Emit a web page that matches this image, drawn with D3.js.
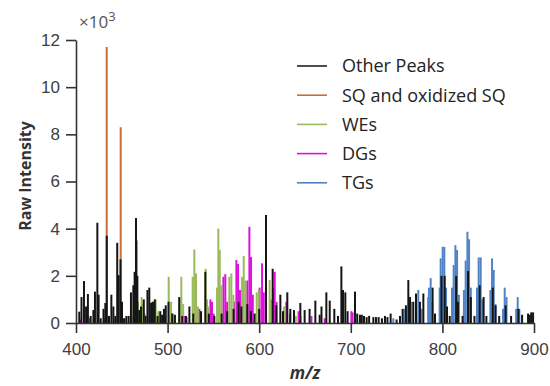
<!DOCTYPE html>
<meta charset="utf-8">
<style>
	body { margin: 0; padding: 0; background: #fff; }
	svg { font-family: 'Open Sans', sans-serif; }
	.axis path, .axis line { stroke: #333; stroke-width: 1.6px; fill: none; }
	.axis text { fill: #404040; font-size: 17px; }
	.peak { stroke-width: 2px; fill: none; }
	.legend text { fill: #222; font-size: 18px; }
</style>
<body>
<svg class="chart"></svg>
</body>
<script src="https://cdn.jsdelivr.net/npm/d3@7"></script>
<script>

// peak lists: [m/z, intensity in thousands]
var otherPeaks = [
	[403.6,0.48],[406,1.1],[408.7,1.78],[411,0.7],[413,1.23],[416,0.3],[419,0.55],[420.7,1.33],
	[423.3,4.25],[424.7,1.2],[427,0.2],[430,0.6],[432,0.85],[433.6,3.7],[436,0.3],[438.6,1.2],
	[440.8,0.7],[443,0.3],[445,3.4],[446.6,2.03],[448.6,2.7],[450.2,0.9],[452.5,0.2],[455,0.3],
	[457.5,0.3],[460,1.3],[462.6,1.6],[464,2.17],[465.5,4.45],[467,2.0],[469,0.55],[471,0.7],
	[474,1.0],[476,0.3],[478,1.4],[480,1.5],[482,0.85],[484,0.9],[486,1.0],[489,0.3],[492,0.5],
	[494,0.35],[496,0.6],[498,0.75],[501,0.9],[505,0.4],[508,0.35],[512.7,1.1],[516,0.3],[520,0.3],
	[523.8,0.7],[528,0.4],[536.5,0.5],[541.2,2.17],[545,0.4],[551,0.3],[559,0.4],[565,0.5],
	[572,0.6],[577.5,0.9],[580.5,0.7],[587,0.8],[591,0.5],[595,0.4],[600,0.6],[607.4,4.58],
	[614.7,2.3],[618.7,0.75],[623.1,1.2],[626,0.5],[630.7,1.3],[634,0.6],[638,0.55],[644.9,0.85],
	[649.6,0.55],[655,0.6],[661.3,0.95],[666,0.35],[668,0.7],[673.3,1.3],[677,0.95],[682,0.6],
	[686,0.3],[689.7,2.4],[691.5,1.4],[694,1.3],[696.5,0.5],[704.6,1.33],[707,0.4],[710,0.35],
	[712,0.35],[714.4,0.3],[717.3,0.25],[720,0.3],[724.6,0.25],[727.5,0.25],[730.4,0.25],[734,0.2],
	[737.3,0.3],[740,0.25],[743.5,0.4],[750,0.15],[753.7,0.3],[756.6,0.6],[760.2,0.75],[762.8,1.82],
	[764.6,1.1],[768.2,0.9],[771.2,1.25],[775.5,0.9],[779.2,1.25],[789.3,1.5],[791.9,0.4],[799,2.0],
	[802.5,2.0],[805,0.7],[808,0.3],[815,2.0],[817,0.9],[822,0.3],[828,2.2],[831,1.1],[835,0.3],
	[840.7,1.6],[845,1.1],[848,0.3],[855,1.5],[858,0.75],[862,0.3],[869,0.75],[875,0.3],[883,0.6],
	[887,0.35],[893.5,0.4],[895.4,0.35],[897,0.45],[899,0.45]
];

var sqPeaks = [[433.5,11.7],[448.8,8.3],[466.4,3.5]];

var wePeaks = [
	[460.5,0.3],[467.7,0.9],[471.7,1.1],[473.2,0.8],[475,0.4],[482.6,0.9],[487,1.0],[490,0.5],
	[495,0.3],[501.2,1.96],[503.8,0.9],[506,0.4],[512.9,1.0],[515,1.96],[517,0.8],[527.4,1.96],
	[529.2,3.12],[531,2.1],[533,0.7],[541.5,2.3],[543,1.0],[545,0.7],[554,1.5],[555.4,4.0],
	[556.9,3.1],[558.7,1.6],[567.4,1.96],[569.6,2.1],[571.8,1.2],[581.3,1.96],[583.1,2.84],
	[585,1.8],[597.3,1.3],[599.5,1.4],[611.4,1.82],[613,1.0],[627,0.7],[640,0.3]
];

var dgPeaks = [
	[405,0.15],[415,0.2],[424,0.15],[431,0.2],[443,0.2],[453,0.2],[468,0.15],[480,0.2],[490,0.15],
	[497,0.2],[504,0.2],[507,0.15],[518.3,0.3],[520.8,0.25],[532.9,0.55],[534.7,0.6],[536.5,0.3],
	[546.7,1.0],[548.5,0.9],[550.3,0.4],[560.9,1.96],[563,2.07],[565,0.9],[572.5,0.9],[575.1,2.67],
	[576.9,2.5],[579,1.4],[587,1.8],[589.3,4.08],[591.1,2.8],[593,1.2],[600.5,1.5],[603.1,2.53],
	[605,1.3],[615,1.5],[616.9,2.17],[619,0.9],[629.6,0.9],[633.6,0.4],[643,0.5],[645,0.3],
	[657,0.3],[671.5,0.2],[700.6,0.5],[702,0.45]
];

var tgPeaks = [
	[746.4,0.2],[758.8,0.6],[766,0.9],[773.7,1.4],[777,0.6],[784.5,1.1],[785.3,1.5],[787.2,1.9],
	[789,0.9],[797,1.5],[798.1,2.74],[800.3,3.23],[802.1,3.23],[804,1.5],[810.5,1.5],[812.3,2.46],
	[814.2,3.3],[816,3.1],[818,1.2],[823.5,1.4],[825.4,2.65],[827.3,3.87],[829.1,3.55],[831,1.5],
	[837.8,1.5],[839.6,2.78],[841.8,2.78],[843.5,1.0],[852.4,1.4],[854.2,2.74],[856,2.25],[858,0.8],
	[866.2,0.6],[868,1.5],[870,1.1],[880.5,0.6],[882.2,1.1],[884,0.6]
];

var xTicks = [400, 500, 600, 700, 800, 900];
var yTicks = [0, 2, 4, 6, 8, 10, 12];

var legendNames = ["Other Peaks", "SQ and oxidized SQ", "WEs", "DGs", "TGs"];
var legendColors = ["#222222", "#cc6a3c", "#9aba5a", "#dd11dd", "#4f83c6"];

var width = 550, height = 386;

var x = d3.scaleLinear().domain([400, 900]).range([76, 534]);
var y = d3.scaleLinear().domain([0, 12]).range([323, 40]);

var svg = d3.select(".chart")
	.attr("width", width)
	.attr("height", height);

// draw order: lipid classes first, other peaks over them
var series = [
	{data: tgPeaks, color: legendColors[4]},
	{data: dgPeaks, color: legendColors[3]},
	{data: wePeaks, color: legendColors[2]},
	{data: sqPeaks, color: legendColors[1]},
	{data: otherPeaks, color: "#151515"}
];

series.forEach(function(s) {
	svg.append("g")
		.selectAll("line")
		.data(s.data)
	  .enter().append("line")
		.attr("class", "peak")
		.attr("stroke", s.color)
		.attr("x1", function(d) { return x(d[0]); })
		.attr("x2", function(d) { return x(d[0]); })
		.attr("y1", y(0))
		.attr("y2", function(d) { return y(d[1]); });
});

var xAxis = d3.axisBottom(x)
	.tickValues(xTicks)
	.tickSize(10)
	.tickSizeOuter(0)
	.tickPadding(10);

var yAxis = d3.axisLeft(y)
	.tickValues(yTicks)
	.tickSize(10)
	.tickSizeOuter(0)
	.tickPadding(6);

svg.append("g")
	.attr("class", "axis")
	.attr("transform", "translate(0," + y(0) + ")")
	.call(xAxis);

svg.append("g")
	.attr("class", "axis")
	.attr("transform", "translate(" + x(400) + ",0)")
	.call(yAxis);

// exponent label
var expo = svg.append("text")
	.attr("x", 79)
	.attr("y", 28)
	.attr("fill", "#555")
	.style("font-size", "17px");
expo.append("tspan").text("\u00d710");
expo.append("tspan").attr("dy", -7).style("font-size", "13px").text("3");

svg.append("text")
	.attr("transform", "translate(31,176) rotate(-90)")
	.attr("text-anchor", "middle")
	.attr("fill", "#333")
	.style("font-size", "16px")
	.style("font-weight", "bold")
	.text("Raw Intensity");

svg.append("text")
	.attr("x", 305)
	.attr("y", 379)
	.attr("text-anchor", "middle")
	.attr("fill", "#333")
	.style("font-size", "17px")
	.style("font-weight", "bold")
	.style("font-style", "italic")
	.text("m/z");

var legend = svg.append("g").attr("class", "legend");
var rows = legend.selectAll("g")
	.data(legendNames)
  .enter().append("g")
	.attr("transform", function(d, i) { return "translate(297," + (66 + i * 29.2) + ")"; });

rows.append("line")
	.attr("x1", 0).attr("x2", 30)
	.attr("stroke", function(d, i) { return legendColors[i]; })
	.attr("stroke-width", 1.6);

rows.append("text")
	.attr("x", 45)
	.attr("dy", "0.36em")
	.text(function(d) { return d; });

</script>
